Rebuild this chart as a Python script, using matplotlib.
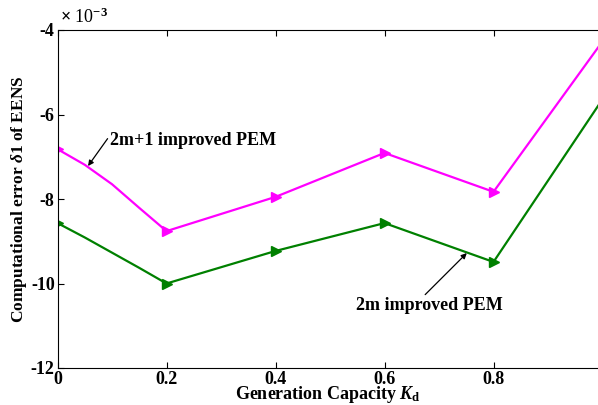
import matplotlib
matplotlib.use('Agg')
import matplotlib.pyplot as plt

# data (values in units of 1e-3)
kd = [0.0, 0.05, 0.1, 0.15, 0.2, 0.4, 0.6, 0.8, 1.0]
pem_2m1 = [-6.82, -7.19, -7.65, -8.21, -8.76, -7.95, -6.91, -7.83, -4.27]
pem_2m = [-8.57, -8.91, -9.27, -9.63, -10.0, -9.23, -8.57, -9.49, -5.64]
marker_idx = [0, 4, 5, 6, 7]

xticks = [0, 0.2, 0.4, 0.6, 0.8]
xtick_labels = ['0', '0.2', '0.4', '0.6', '0.8']
yticks = [-12, -10, -8, -6, -4]
ytick_labels = ['-12', '-10', '-8', '-6', '-4']

plt.rcParams['font.family'] = 'Liberation Serif'
plt.rcParams['font.weight'] = 'bold'
plt.rcParams['mathtext.fontset'] = 'custom'
plt.rcParams['mathtext.rm'] = 'Liberation Serif:bold'
plt.rcParams['mathtext.it'] = 'Liberation Serif:italic:bold'
plt.rcParams['mathtext.bf'] = 'Liberation Serif:bold'

fig = plt.figure(figsize=(5.98, 4.05), dpi=100)
ax = fig.add_axes([57.5 / 598, 1 - 368 / 405, 1 - 57.5 / 598, 338 / 405])

ax.plot(kd, pem_2m1, color='#FF00FF', lw=1.6, marker='>', ms=6.5,
        markevery=marker_idx)
ax.plot(kd, pem_2m, color='#008000', lw=1.6, marker='>', ms=6.5,
        markevery=marker_idx)

ax.set_xlim(0, 540.5 / 545)
ax.set_ylim(-12, -4)
ax.set_xticks(xticks)
ax.set_xticklabels(xtick_labels, fontsize=13, fontweight='bold')
ax.set_yticks(yticks)
ax.set_yticklabels(ytick_labels, fontsize=13, fontweight='bold')
ax.tick_params(direction='in', top=True, length=4, width=0.8)
ax.tick_params(axis='x', pad=2)
ax.tick_params(axis='y', pad=2)
ax.spines['right'].set_visible(False)

ax.set_xlabel('Generation Capacity $K_{\\mathrm{d}}$', fontsize=13,
              fontweight='bold', labelpad=-2.5)
ax.set_ylabel('Computational error $\\delta$1 of EENS', fontsize=12.5,
              fontweight='bold', labelpad=1)

ax.text(0.005, 1.008, '$\\times$ 10$^{-3}$', transform=ax.transAxes,
        fontsize=13, fontweight='normal', ha='left', va='bottom')

ax.annotate('2m+1 improved PEM', xy=(0.056, -7.22), xytext=(0.097, -6.62),
            fontsize=13, fontweight='bold', ha='left', va='center',
            arrowprops=dict(arrowstyle='-|>', color='black', lw=0.9,
                            mutation_scale=8, shrinkA=0, shrinkB=0,
                            relpos=(0, 0.85)))
ax.annotate('2m improved PEM', xy=(0.751, -9.28), xytext=(0.683, -10.53),
            fontsize=13, fontweight='bold', ha='center', va='center',
            arrowprops=dict(arrowstyle='-|>', color='black', lw=0.9,
                            mutation_scale=8, shrinkA=0, shrinkB=0,
                            relpos=(0.45, 1)))

plt.savefig('out.png', dpi=100)
